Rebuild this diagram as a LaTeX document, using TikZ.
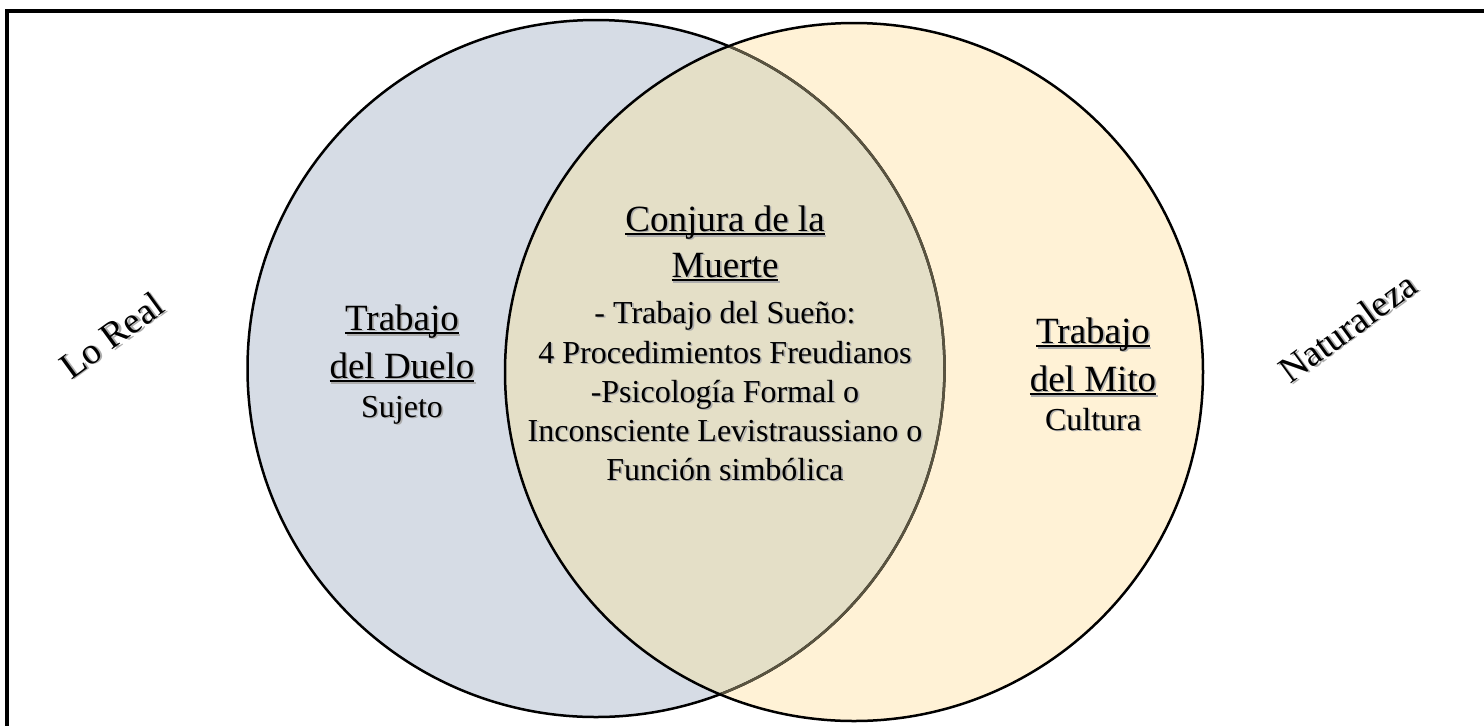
\documentclass[tikz,border=0pt]{standalone}
\usepackage{fontspec}
\setmainfont{Liberation Serif}

\definecolor{leftfill}{HTML}{D6DCE5}
\definecolor{rightfill}{HTML}{FFF2D6}
\definecolor{midfill}{HTML}{E4DFC7}
\definecolor{midedge}{HTML}{5A5440}
\definecolor{shadowgray}{HTML}{ADADAD}

% underlined word with a thin rule just below the baseline
\newcommand\ulword[1]{\setbox0\hbox{#1}\rlap{\rule[-0.11em]{\wd0}{0.055em}}\box0}

% soft grey drop shadow behind a piece of text
\newcommand\shd[1]{\makebox[0pt][l]{\kern0.8pt\raisebox{-0.8pt}{\color{shadowgray}#1}}#1}

% one line of text: name, x, y, options, text
\newcommand\shtext[5]{\node[lbl,#4] (#1) at (#2,#3) {\shd{#5}};}

\tikzset{
  lbl/.style={inner sep=0pt, anchor=base, font=\fontsize{16}{19}\selectfont},
  big/.style={font=\fontsize{18.5}{22}\selectfont},
  ring/.style={line width=1.25pt, draw=black},
}

\begin{document}
\begin{tikzpicture}[x=0.5pt,y=-0.5pt]
\useasboundingbox (0,0) rectangle (1484,725);
\clip (0,0) rectangle (1484,725);

% outer frame
\draw[line width=1.6pt] (1500,11) -- (7,11) -- (7,740);

\coordinate (cl) at (596,368.5);
\coordinate (cr) at (854,372);

% circle fills and their overlap
\fill[leftfill] (cl) circle[radius=348.5];
\fill[rightfill] (cr) circle[radius=349];
\begin{scope}
  \clip (cl) circle[radius=348.5];
  \fill[midfill] (cr) circle[radius=349];
\end{scope}

% outlines
\draw[ring] (cl) circle[radius=348.5];
\begin{scope}
  \clip (cr) circle[radius=349];
  \draw[ring, draw=midedge] (cl) circle[radius=348.5];
\end{scope}
\draw[ring] (cr) circle[radius=349];

% left circle
\shtext{dueloA}{402}{330}{big}{\ulword{Trabajo}}
\shtext{dueloB}{402}{378}{big}{\ulword{del Duelo}}
\shtext{sujeto}{402}{417}{}{Sujeto}

% right circle
\shtext{mitoA}{1093}{343}{big}{\ulword{Trabajo}}
\shtext{mitoB}{1093}{391}{big}{\ulword{del Mito}}
\shtext{cultura}{1093}{430}{}{Cultura}

% overlap
\shtext{conjA}{725}{231}{big}{\ulword{Conjura de la}}
\shtext{conjB}{725}{277}{big}{\ulword{Muerte}}
\shtext{ovA}{725}{323}{}{- Trabajo del Sueño:}
\shtext{ovB}{725}{363}{}{4 Procedimientos Freudianos}
\shtext{ovC}{725}{402}{}{-Psicología Formal o}
\shtext{ovD}{725}{441}{}{Inconsciente Levistraussiano o}
\shtext{ovE}{725}{480}{}{Función simbólica}

% outer labels
\shtext{real}{112}{336}{big,anchor=center,rotate=36}{Lo Real}
\shtext{natur}{1348}{328}{big,anchor=center,rotate=36}{Naturaleza}
\end{tikzpicture}
\end{document}
